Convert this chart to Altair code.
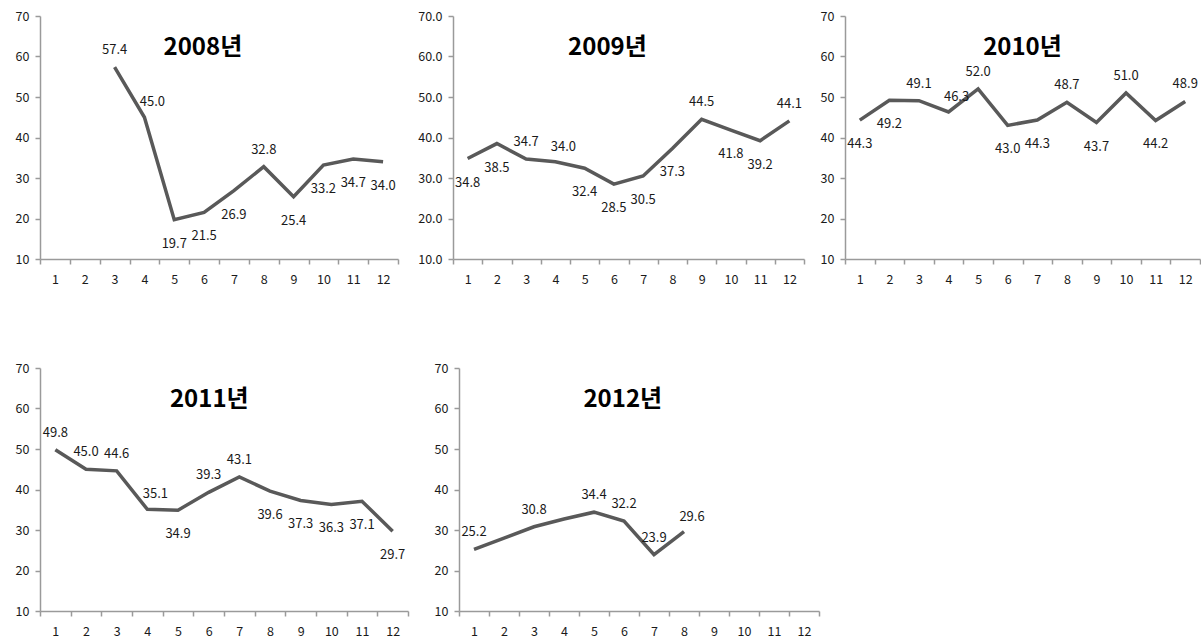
import altair as alt
import pandas as pd

months = list(range(1, 13))

# values (None = no data)
v2008 = [None, None, 57.4, 45.0, 19.7, 21.5, 26.9, 32.8, 25.4, 33.2, 34.7, 34.0]
v2009 = [34.8, 38.5, 34.7, 34.0, 32.4, 28.5, 30.5, 37.3, 44.5, 41.8, 39.2, 44.1]
v2010 = [44.3, 49.2, 49.1, 46.3, 52.0, 43.0, 44.3, 48.7, 43.7, 51.0, 44.2, 48.9]
v2011 = [49.8, 45.0, 44.6, 35.1, 34.9, 39.3, 43.1, 39.6, 37.3, 36.3, 37.1, 29.7]
v2012 = [25.2, 28.0, 30.8, 32.7, 34.4, 32.2, 23.9, 29.6, None, None, None, None]

# which data labels are shown
show2012 = [True, False, True, False, True, True, True, True, False, False, False, False]

# label placement (style): a = above, b = below, r = above-right
pos2008 = "bbarbbbabbbb"
pos2009 = "bbarbbbbabba"
pos2010 = "bbarabbababa"
pos2011 = "aaarbaabbbbb"
pos2012 = "aaaaaaaraaaa"

LINE = "#595959"
AXIS = "#9a9a9a"
TXT = "#1a1a1a"
FONT = "Noto Sans CJK KR"
H = 243


def panel(year, vals, pos, width, extent, fmt, tfrac, show=None):
    rows = []
    for i, m in enumerate(months):
        v = vals[i]
        if v is None:
            continue
        s = True if show is None else show[i]
        rows.append({"month": m, "value": v, "pos": pos[i], "show": s,
                     "lab": f"{v:.1f}"})
    df = pd.DataFrame(rows)
    xenc = alt.X("month:O",
                 scale=alt.Scale(type="band", domain=months, paddingInner=0, paddingOuter=0),
                 axis=alt.Axis(title=None, labelAngle=0, tickBand="extent", tickSize=5,
                               labelPadding=9, labelFontSize=12.5, labelFont=FONT,
                               labelColor=TXT, domainColor=AXIS, tickColor=AXIS,
                               domainWidth=1.5, tickWidth=1.5),
                 bandPosition=0.5)
    yenc = alt.Y("value:Q",
                 scale=alt.Scale(domain=[10, 70], nice=False, zero=False),
                 axis=alt.Axis(title=None, values=[10, 20, 30, 40, 50, 60, 70], format=fmt,
                               grid=False, tickSize=5, labelPadding=6, labelFontSize=12.5,
                               labelFont=FONT, labelColor=TXT, domainColor=AXIS,
                               tickColor=AXIS, domainWidth=1.5, tickWidth=1.5,
                               minExtent=extent, maxExtent=extent))
    base = alt.Chart(df).encode(x=xenc, y=yenc)
    line = base.mark_line(color=LINE, strokeWidth=3.5)
    above = base.transform_filter("datum.show && datum.pos == 'a'").mark_text(
        dy=-17, fontSize=13, font=FONT, color=TXT).encode(text="lab:N")
    right = base.transform_filter("datum.show && datum.pos == 'r'").mark_text(
        dx=8, dy=-15, fontSize=13, font=FONT, color=TXT).encode(text="lab:N")
    below = base.transform_filter("datum.show && datum.pos == 'b'").mark_text(
        dy=24, fontSize=13, font=FONT, color=TXT).encode(text="lab:N")
    title = alt.Chart(pd.DataFrame({"t": [f"{year}년"]})).mark_text(
        fontSize=24, fontWeight="bold", font=FONT,
        color="#000000", baseline="middle", align="center").encode(
        text="t:N", x=alt.value(width * tfrac), y=alt.value(32))
    return alt.layer(line, above, right, below, title).properties(width=width, height=H)


p1 = panel(2008, v2008, pos2008, 358, 35, "d", 0.455)
p2 = panel(2009, v2009, pos2009, 351, 54, ".1f", 0.44)
p3 = panel(2010, v2010, pos2010, 355, 40, "d", 0.50)
p4 = panel(2011, v2011, pos2011, 368, 28, "d", 0.46)
p5 = panel(2012, v2012, pos2012, 360, 50, "d", 0.455, show2012)

row1 = alt.hconcat(p1, p2, p3, spacing=0)
row2 = alt.hconcat(p4, p5, spacing=0)

chart = alt.vconcat(row1, row2, spacing=76).properties(
    padding={"left": 5, "top": 10, "right": 0, "bottom": 0},
    background="white",
).configure_view(stroke=None)

chart.save("out.html", embed_options={"renderer": "svg", "actions": False})
